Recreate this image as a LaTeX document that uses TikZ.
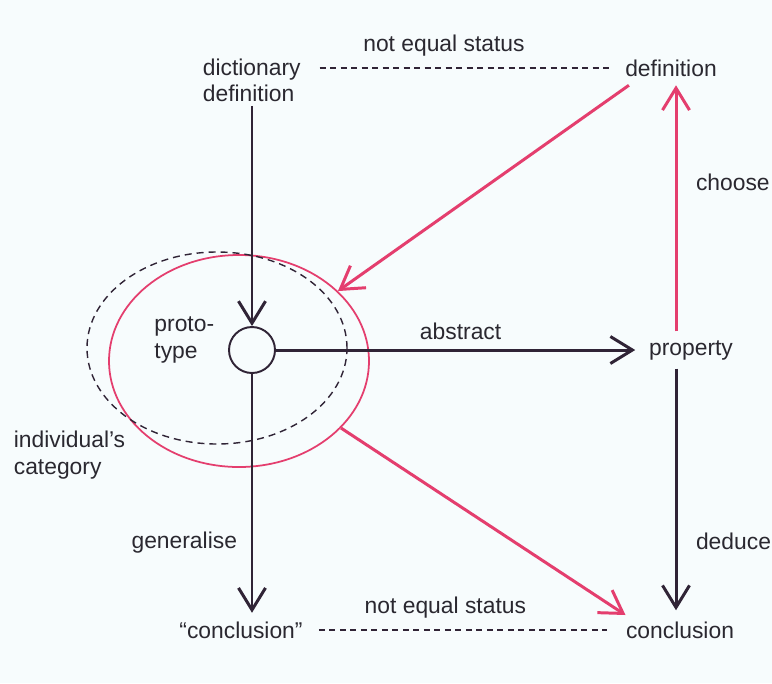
\documentclass[tikz,border=0pt]{standalone}
\usepackage{fontspec}
\setmainfont{Liberation Sans}
\usetikzlibrary{arrows.meta,shapes.geometric}
\definecolor{inkdark}{RGB}{48,36,54}
\definecolor{inkpink}{RGB}{228,62,110}
\definecolor{paper}{RGB}{247,252,253}
\definecolor{txtgrey}{RGB}{42,40,48}
\tikzset{
  lbl/.style={text=txtgrey, inner sep=2pt},
  blk/.style={line width=1.7pt, draw=inkdark, -{Straight Barb[length=4.4mm,width=5.4mm,line width=1.7pt]}},
  pnk/.style={line width=1.7pt, draw=inkpink, -{Straight Barb[length=4.4mm,width=5.4mm,line width=1.7pt]}},
  status/.style={line width=0.7pt, draw=inkdark, dash pattern=on 1.2mm off 0.9mm}
}
\begin{document}
\begin{tikzpicture}[x=0.2mm, y=-0.2mm, every node/.style={font=\fontsize{13}{15}\selectfont}]
\fill[paper] (0,0) rectangle (772,683);
\useasboundingbox (0,0) rectangle (772,683);
% text nodes
\node[lbl, align=left, anchor=north west] (dict) at (199,55) {dictionary\\definition};
\node[lbl] (def) at (671,68) {definition};
\node[lbl] (prop) at (691,350) {property};
\node[lbl] (conc) at (680,630) {conclusion};
\node[lbl] (gconc) at (241,630) {“conclusion”};
\node[lbl, align=left, anchor=east] (proto) at (218,340) {proto-\\type};
\node[lbl, align=left, anchor=west] (indiv) at (10,455) {individual’s\\category};
% category ellipses and prototype
\node[draw=inkpink, line width=1pt, ellipse, minimum width=5.2cm, minimum height=4.24cm] (cat) at (239,361) {};
\node[draw=inkdark, line width=0.8pt, dash pattern=on 1.4mm off 1mm, ellipse, minimum width=5.2cm, minimum height=3.84cm] (icat) at (217,348) {};
\node[draw=inkdark, line width=1.1pt, circle, minimum size=0.92cm, inner sep=0pt] (circ) at (252,350) {};
\coordinate (rcol) at (676,0);
% connectors
\draw[blk] (dict.south -| circ) -- (circ.north);
\draw[blk, shorten >=2mm] (circ.east) -- (prop.west) node[lbl, midway, above=1mm] {abstract};
\draw[blk, shorten >=1mm] (circ.south) -- (circ.south |- gconc.north) node[lbl, pos=0.69, left=2mm] {generalise};
\draw[pnk, shorten <=1mm, shorten >=1mm] (prop.north -| rcol) -- (def.south -| rcol) node[lbl, pos=0.6, right=3mm] {choose};
\draw[blk, shorten <=1mm, shorten >=1.5mm] (prop.south -| rcol) -- (conc.north -| rcol) node[lbl, pos=0.7, right=3mm] {deduce};
\draw[pnk] ([xshift=1.5mm,yshift=-1mm]def.south west) -- (cat);
\draw[pnk, shorten >=1mm] (cat) -- ([xshift=1.5mm]conc.north west);
\draw[status, shorten <=3mm, shorten >=2.5mm] (def.west -| dict.east) -- (def.west) node[lbl, pos=0.44, above=1.5mm] {not equal status};
\draw[status, shorten <=2.5mm, shorten >=3mm] (gconc.east) -- (conc.west) node[lbl, pos=0.44, above=1.5mm] {not equal status};
\end{tikzpicture}
\end{document}
